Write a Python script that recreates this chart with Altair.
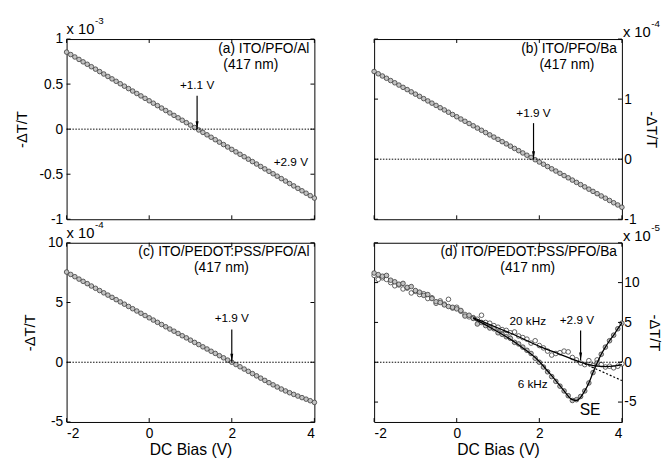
import altair as alt
import pandas as pd

# ---------------- data ----------------
BIAS = [-2.0, -1.9, -1.8, -1.7, -1.6, -1.5, -1.4, -1.3, -1.2, -1.1,
        -1.0, -0.9, -0.8, -0.7, -0.6, -0.5, -0.4, -0.3, -0.2, -0.1,
        0.0, 0.1, 0.2, 0.3, 0.4, 0.5, 0.6, 0.7, 0.8, 0.9,
        1.0, 1.1, 1.2, 1.3, 1.4, 1.5, 1.6, 1.7, 1.8, 1.9,
        2.0, 2.1, 2.2, 2.3, 2.4, 2.5, 2.6, 2.7, 2.8, 2.9,
        3.0, 3.1, 3.2, 3.3, 3.4, 3.5, 3.6, 3.7, 3.8, 3.9, 4.0]

# (a) ITO/PFO/Al, units of 1e-3
A_VALS = [0.855, 0.828, 0.801, 0.774, 0.747, 0.720, 0.693, 0.666, 0.639, 0.612,
          0.585, 0.558, 0.531, 0.504, 0.477, 0.450, 0.423, 0.396, 0.369, 0.342,
          0.315, 0.288, 0.261, 0.234, 0.207, 0.180, 0.153, 0.126, 0.099, 0.072,
          0.045, 0.018, -0.009, -0.036, -0.063, -0.090, -0.117, -0.144, -0.171, -0.198,
          -0.225, -0.252, -0.279, -0.306, -0.333, -0.360, -0.387, -0.414, -0.441, -0.468,
          -0.495, -0.522, -0.549, -0.576, -0.603, -0.630, -0.657, -0.684, -0.711, -0.738, -0.765]

# (b) ITO/PFO/Ba, units of 1e-4
B_VALS = [1.460, 1.422, 1.385, 1.347, 1.309, 1.272, 1.234, 1.196, 1.159, 1.121,
          1.083, 1.046, 1.008, 0.970, 0.933, 0.895, 0.857, 0.820, 0.782, 0.744,
          0.707, 0.669, 0.631, 0.594, 0.556, 0.518, 0.481, 0.443, 0.405, 0.368,
          0.330, 0.292, 0.255, 0.217, 0.179, 0.142, 0.104, 0.066, 0.029, -0.009,
          -0.047, -0.084, -0.122, -0.160, -0.197, -0.235, -0.273, -0.310, -0.348, -0.386,
          -0.423, -0.461, -0.499, -0.536, -0.574, -0.612, -0.649, -0.687, -0.725, -0.762, -0.800]

# (c) ITO/PEDOT:PSS/PFO/Al, units of 1e-4
C_VALS = [7.55, 7.35, 7.16, 6.96, 6.77, 6.58, 6.38, 6.19, 6.00, 5.81,
          5.62, 5.43, 5.24, 5.05, 4.86, 4.67, 4.48, 4.29, 4.10, 3.91,
          3.72, 3.53, 3.34, 3.16, 2.97, 2.78, 2.60, 2.41, 2.22, 2.04,
          1.85, 1.66, 1.48, 1.29, 1.11, 0.92, 0.74, 0.55, 0.37, 0.18,
          0.00, -0.19, -0.38, -0.57, -0.76, -0.95, -1.14, -1.33, -1.52, -1.71,
          -1.89, -2.07, -2.24, -2.40, -2.55, -2.69, -2.83, -2.96, -3.09, -3.22, -3.36]

# (d) ITO/PEDOT:PSS/PFO/Ba, units of 1e-5
D_6KHZ = [11.2, 11.0, 10.8, 10.9, 10.3, 10.1, 9.8, 9.9, 9.4, 9.5,
          9.0, 8.8, 8.4, 8.5, 8.0, 7.6, 7.5, 7.2, 7.0, 6.9,
          6.7, 6.5, 5.8, 5.9, 5.5, 4.8, 5.0, 4.6, 4.3, 4.2,
          3.7, 3.5, 3.2, 3.0, 2.5, 2.3, 1.9, 1.5, 1.1, 0.5,
          0.0, -0.6, -1.2, -1.8, -2.4, -3.0, -3.6, -4.2, -4.8, -4.7,
          -4.3, -3.6, -2.6, -1.3, -0.1, 1.0, 1.9, 2.7, 3.4, 4.2, 4.9]
D_20KHZ = [10.9, 10.4, 10.6, 10.4, 10.0, 9.6, 9.7, 9.2, 9.3, 8.7,
           8.9, 8.5, 8.6, 8.0, 8.1, 7.4, 7.7, 7.3, 7.9, 6.8,
           6.9, 6.4, 6.0, 5.7, 5.6, 5.4, 5.9, 5.0, 4.9, 4.6,
           4.4, 4.1, 4.0, 3.7, 3.8, 3.3, 3.1, 2.9, 2.4, 2.7,
           2.1, 1.8, 1.4, 0.9, 1.1, 1.2, 1.4, 1.3, 0.6, 0.3,
           -0.1, -0.3, 0.2, -0.4, 0.3, -0.3, -0.6, -0.5, -0.7, -0.5, -0.2]

FIT_20_X = [0.4, 1.0, 1.5, 2.0, 2.5, 2.8, 3.0, 3.2, 3.4, 3.6, 3.8, 4.0]
FIT_20_Y = [5.6, 4.3, 3.2, 2.0, 1.0, 0.4, 0.0, -0.3, -0.5, -0.55, -0.5, -0.3]
FIT_6_X = [0.4, 0.8, 1.2, 1.6, 2.0, 2.2, 2.4, 2.6, 2.8, 2.9, 3.0, 3.1, 3.2,
           3.3, 3.4, 3.5, 3.6, 3.7, 3.8, 3.9, 4.0]
FIT_6_Y = [5.5, 4.4, 3.2, 1.8, 0.1, -1.1, -2.3, -3.6, -4.7, -4.8, -4.4, -3.6, -2.6,
           -1.3, -0.1, 1.0, 1.9, 2.7, 3.4, 4.2, 4.9]
EXT_X = [3.1, 4.0]
EXT_Y = [-0.2, -2.3]

X_TICKS = [-2, 0, 2, 4]

# ---------------- styling ----------------
FONT = "Liberation Sans"
W = 253
H1 = 184
H2 = 183
ARROW_HEAD = "M-0.375,-2 L0.375,-2 L0,0 Z"
LBL = "'' + datum.value"


def panel(height, ydom, ylabels, yticks, orient, show_x, series, texts, arrow,
          exp_txt, exp_sup):
    xs = alt.Scale(domain=[-2, 4], nice=False, zero=False)
    ys = alt.Scale(domain=ydom, nice=False, zero=False)
    if show_x:
        xaxis = alt.Axis(values=X_TICKS, labelExpr=LBL, title="DC Bias (V)",
                         titleFontSize=16, labelPadding=5, titlePadding=1)
    else:
        xaxis = None
    yaxis = alt.Axis(orient=orient, values=ylabels, labelExpr=LBL, title="-ΔT/T",
                     labelPadding=4 if orient == "left" else 2,
                     titlePadding=10 if orient == "left" else 8)

    # only the first layer defines the axes; the others leave them unset
    def X(f):
        return alt.X(f, scale=xs)

    def Y(f):
        return alt.Y(f, scale=ys)

    layers = []
    s0 = series[0]
    df0 = pd.DataFrame({"v": s0[1], "s": s0[2]})
    layers.append(alt.Chart(df0).mark_circle(
        size=22, color=s0[3], stroke="#3a3a3a", strokeWidth=0.8, opacity=1).encode(
        x=alt.X("v:Q", scale=xs, axis=xaxis),
        y=alt.Y("s:Q", scale=ys, axis=yaxis)))
    layers.append(alt.Chart(pd.DataFrame({"z": [0]})).mark_rule(
        color="black", strokeWidth=1, strokeDash=[1.5, 1.5]).encode(
        x=alt.value(0), x2=alt.value(W), y=Y("z:Q")))
    for s in series[1:]:
        df = pd.DataFrame({"v": s[1], "s": s[2]})
        if s[0] == "pts":
            layers.append(alt.Chart(df).mark_circle(
                size=22, color=s[3], stroke="#3a3a3a", strokeWidth=0.8, opacity=1).encode(
                x=X("v:Q"), y=Y("s:Q")))
        else:
            if s[3]:
                mk = dict(color="black", strokeWidth=1.2, strokeDash=[2, 2])
            else:
                mk = dict(color="black", strokeWidth=1.3, interpolate="monotone")
            layers.append(alt.Chart(df).mark_line(**mk).encode(
                x=X("v:Q"), y=Y("s:Q")))

    xt = alt.Chart(pd.DataFrame({"t": X_TICKS}))
    yt = alt.Chart(pd.DataFrame({"t": yticks}))
    layers.append(xt.mark_rule(color="black", strokeWidth=1).encode(
        x=X("t:Q"), y=alt.value(height), y2=alt.value(height - 4)))
    layers.append(xt.mark_rule(color="black", strokeWidth=1).encode(
        x=X("t:Q"), y=alt.value(0), y2=alt.value(4)))
    layers.append(yt.mark_rule(color="black", strokeWidth=1).encode(
        y=Y("t:Q"), x=alt.value(0), x2=alt.value(4)))
    layers.append(yt.mark_rule(color="black", strokeWidth=1).encode(
        y=Y("t:Q"), x=alt.value(W), x2=alt.value(W - 4)))

    for (tx, ty, label, size, align) in texts:
        df = pd.DataFrame({"tx": [tx], "ty": [ty], "label": [label]})
        layers.append(alt.Chart(df).mark_text(
            align=align, baseline="middle", fontSize=size, font=FONT, color="black").encode(
            x=X("tx:Q"), y=Y("ty:Q"), text="label:N"))

    ax, ay1, ay2 = arrow
    adf = pd.DataFrame({"ax": [ax], "y1": [ay1], "y2": [ay2]})
    layers.append(alt.Chart(adf).mark_rule(color="black", strokeWidth=1.2).encode(
        x=X("ax:Q"), y=Y("y1:Q"), y2="y2:Q"))
    layers.append(alt.Chart(adf).mark_point(
        shape=ARROW_HEAD, filled=True, color="black", size=64, opacity=1).encode(
        x=X("ax:Q"), y=Y("y2:Q")))

    ex0 = 0 if orient == "left" else W + 1
    ey = -10 if orient == "left" else -7
    layers.append(alt.Chart(pd.DataFrame({"t": [exp_txt]})).mark_text(
        align="left", baseline="middle", fontSize=15, font=FONT, color="black").encode(
        x=alt.value(ex0), y=alt.value(ey), text="t:N"))
    layers.append(alt.Chart(pd.DataFrame({"t": [exp_sup]})).mark_text(
        align="left", baseline="middle", fontSize=10, font=FONT, color="black").encode(
        x=alt.value(ex0 + 29), y=alt.value(ey - 8), text="t:N"))

    return alt.layer(*layers).properties(width=W, height=height)


pa = panel(H1, [-1, 1], [-1, -0.5, 0, 0.5, 1], [-1, -0.5, 0, 0.5, 1], "left", False,
           [("pts", BIAS, A_VALS, "#c2c2c2")],
           [(3.88, 0.89, "(a) ITO/PFO/Al", 14, "right"),
            (2.46, 0.71, "(417 nm)", 14, "center"),
            (1.16, 0.49, "+1.1 V", 12, "center"),
            (3.43, -0.37, "+2.9 V", 12, "center")],
           (1.16, 0.37, 0.0), "x 10", "-3")

pb = panel(H1, [-1, 2], [-1, 0, 1], [-1, 0, 1, 2], "right", False,
           [("pts", BIAS, B_VALS, "#c2c2c2")],
           [(3.88, 1.84, "(b) ITO/PFO/Ba", 14, "right"),
            (2.67, 1.56, "(417 nm)", 14, "center"),
            (1.86, 0.77, "+1.9 V", 12, "center")],
           (1.86, 0.60, 0.0), "x 10", "-4")

pc = panel(H2, [-5, 10], [-5, 0, 5, 10], [-5, 0, 5, 10], "left", True,
           [("pts", BIAS, C_VALS, "#c2c2c2")],
           [(3.88, 9.18, "(c) ITO/PEDOT:PSS/PFO/Al", 14, "right"),
            (1.75, 7.87, "(417 nm)", 14, "center"),
            (2.0, 3.66, "+1.9 V", 12, "center")],
           (2.0, 2.75, 0.05), "x 10", "-4")

pd_ = panel(H2, [-7.5, 15], [-5, 0, 5, 10], [-5, 0, 5, 10, 15], "right", True,
            [("pts", BIAS, D_20KHZ, "white"),
             ("pts", BIAS, D_6KHZ, "#c2c2c2"),
             ("line", FIT_20_X, FIT_20_Y, False),
             ("line", FIT_6_X, FIT_6_Y, False),
             ("line", EXT_X, EXT_Y, True)],
            [(3.88, 13.8, "(d) ITO/PEDOT:PSS/PFO/Ba", 14, "right"),
             (1.72, 11.8, "(417 nm)", 14, "center"),
             (1.72, 5.2, "20 kHz", 12, "center"),
             (2.91, 5.3, "+2.9 V", 12, "center"),
             (1.84, -2.8, "6 kHz", 12, "center"),
             (3.23, -6.0, "SE", 16, "center")],
            (3.0, 4.0, 0.25), "x 10", "-5")

chart = alt.concat(pa, pb, pc, pd_, columns=2,
                   spacing={"row": -8, "column": 51}).properties(
    padding={"left": 14, "top": 11, "right": 2, "bottom": 0},
    background="white"
).configure(font=FONT).configure_view(
    stroke="black", strokeWidth=1
).configure_axis(
    labelFont=FONT, titleFont=FONT, labelFontSize=14, titleFontSize=15,
    labelColor="black", titleColor="black", titleFontWeight="normal",
    domain=False, ticks=False, grid=False
)

chart.save("out.html", embed_options={"renderer": "svg", "actions": False})
